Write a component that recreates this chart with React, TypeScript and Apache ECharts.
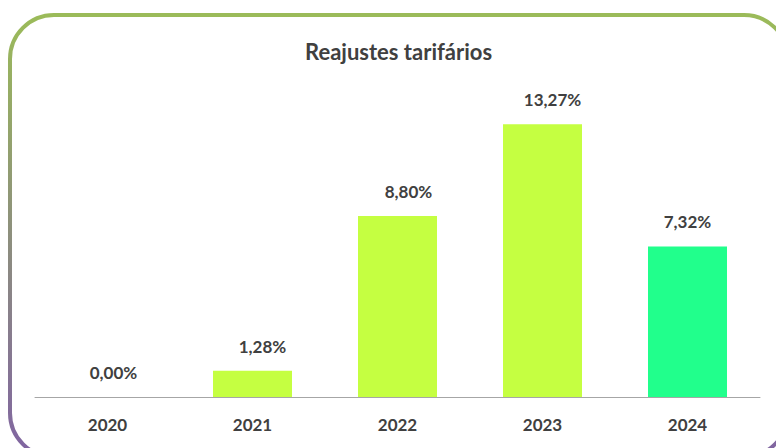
import React, { useEffect, useRef } from "react";
import * as echarts from "echarts";

const categories = ["2020", "2021", "2022", "2023", "2024"];
const values = [0.0, 1.28, 8.8, 13.27, 7.32];
const barColors = ["#C5FF41", "#C5FF41", "#C5FF41", "#C5FF41", "#21FF8C"];
const labelShift = [6, 10, 11, 10, 0];
const titleText = "Reajustes tarifários";

const fmt = (v: number) => v.toFixed(2).replace(".", ",") + "%";

export default function App() {
  const ref = useRef<HTMLDivElement>(null);
  useEffect(() => {
    if (!ref.current) return;
    const chart = echarts.init(ref.current, null, { renderer: "svg" });
    const textColor = "#404040";
    const font = "Lato, 'Open Sans', sans-serif";
    chart.setOption({
      animation: false,
      title: {
        text: titleText,
        left: 300,
        top: 35,
        textStyle: { fontFamily: font, fontWeight: "bold", fontSize: 22, color: textColor },
      },
      grid: { left: 35, right: 16, top: 68, bottom: 51, containLabel: false },
      xAxis: {
        type: "category",
        data: categories,
        axisLine: { lineStyle: { color: "#A6A6A6", width: 1 } },
        axisTick: { show: false },
        axisLabel: {
          fontFamily: font,
          fontWeight: "bold",
          fontSize: 17,
          color: textColor,
          margin: 19,
        },
      },
      yAxis: {
        type: "value",
        min: 0,
        max: 16,
        show: false,
        splitLine: { show: false },
      },
      series: [
        {
          type: "bar",
          barWidth: 79,
          data: values.map((v, i) => ({
            value: v,
            itemStyle: { color: barColors[i] },
            label: { offset: [labelShift[i], 0] },
          })),
          label: {
            show: true,
            position: "top",
            distance: 16,
            formatter: (p: any) => fmt(p.value),
            fontFamily: font,
            fontWeight: "bold",
            fontSize: 17,
            color: textColor,
          },
        },
      ],
      graphic: [
        {
          type: "rect",
          shape: { x: 10, y: 15, width: 778, height: 442, r: 44 },
          style: {
            fill: "none",
            lineWidth: 4,
            stroke: new echarts.graphic.LinearGradient(0, 0, 0, 1, [
              { offset: 0, color: "#9BBB59" },
              { offset: 1, color: "#8064A2" },
            ]),
          },
          silent: true,
          z: 100,
        },
      ],
    });
    return () => chart.dispose();
  }, []);
  return (
    <div
      ref={ref}
      style={{ position: "fixed", left: 0, top: 0, width: 776, height: 448, background: "#fff" }}
    />
  );
}
